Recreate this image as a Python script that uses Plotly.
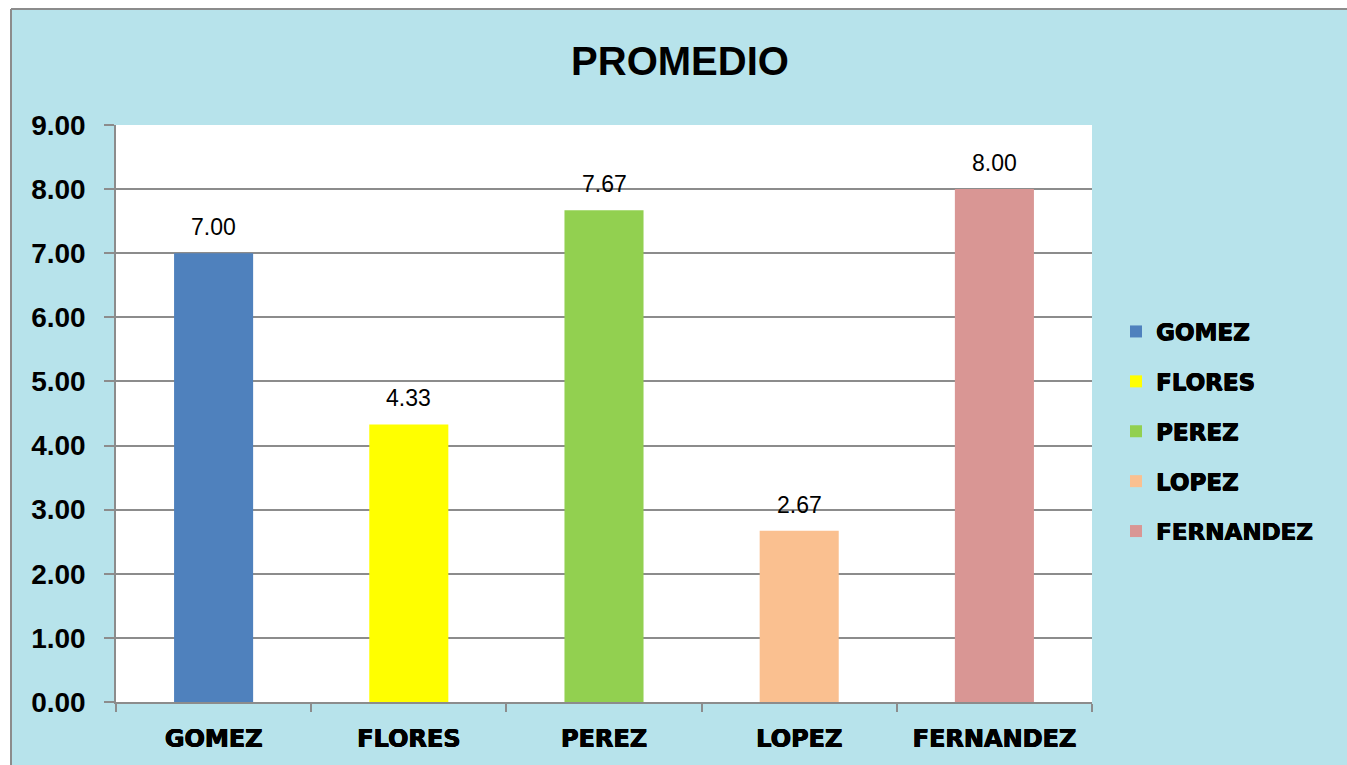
import plotly.graph_objects as go

categories = ["GOMEZ", "FLORES", "PEREZ", "LOPEZ", "FERNANDEZ"]
values = [7.00, 4.33, 7.67, 2.67, 8.00]
colors = ["#4F81BD", "#FFFF00", "#92D050", "#FAC090", "#D99694"]
y_ticks = [0, 1, 2, 3, 4, 5, 6, 7, 8, 9]

W, H = 1347, 765
L, R, T, B = 116, 1092, 125, 702
pw, ph = R - L, B - T

HEAVY = "0.6px 0 0 #000, -0.3px 0 0 #000, 0 0.4px 0 #000"

fig = go.Figure()
for c, v, col in zip(categories, values, colors):
    fig.add_trace(go.Bar(
        x=[c], y=[v], name=c, marker=dict(color=col, line=dict(width=0)),
        width=0.405, cliponaxis=False, legendgroup=c,
    ))

annotations = [
    dict(x=c, y=v, xref="x", yref="y", text=f"{v:.2f}", showarrow=False,
         yanchor="bottom", yshift=11,
         font=dict(family="Liberation Sans", size=23, color="#000000"))
    for c, v in zip(categories, values)
]

def px_x(x):
    return (x - L) / pw

def px_y(y):
    return (B - y) / ph

fig.update_layout(
    width=W, height=H, autosize=False,
    margin=dict(l=L, r=W - R, t=T, b=H - B, pad=0),
    paper_bgcolor="#B7E3EB",
    plot_bgcolor="#FFFFFF",
    barmode="overlay",
    title=dict(text="<b>PROMEDIO</b>", x=680 / W, xref="container", xanchor="center",
               y=1 - 61 / H, yref="container", yanchor="middle",
               font=dict(family="Liberation Sans", size=40, color="#000000")),
    showlegend=True,
    legend=dict(x=px_x(1116), xanchor="left", y=px_y(310), yanchor="top",
                bgcolor="rgba(0,0,0,0)", tracegroupgap=17, itemwidth=30,
                font=dict(family="DejaVu Sans", size=23, color="#000000", weight="bold",
                          shadow=HEAVY)),
    annotations=annotations,
    xaxis=dict(
        type="category", tickson="boundaries", ticks="outside", ticklen=8,
        tickcolor="#8C8C8C", tickwidth=1.5, showline=True, linecolor="#8C8C8C", linewidth=1.5,
        showgrid=False, ticklabelstandoff=14,
        tickfont=dict(family="DejaVu Sans", size=24, color="#000000", weight="bold",
                      shadow=HEAVY),
    ),
    yaxis=dict(
        range=[0, 9], tickvals=y_ticks, tickformat=".2f", ticks="outside", ticklen=10,
        tickcolor="#8C8C8C", tickwidth=1.5, showline=True, linecolor="#8C8C8C", linewidth=1.5,
        showgrid=True, gridcolor="#8C8C8C", gridwidth=1.5, zeroline=False,
        ticklabelstandoff=13,
        tickfont=dict(family="Liberation Sans", size=28, color="#000000", weight="bold"),
    ),
    shapes=[
        dict(type="rect", xref="paper", yref="paper", x0=px_x(-5), x1=px_x(11), y0=px_y(H + 5), y1=px_y(-5),
             fillcolor="#FFFFFF", line=dict(width=0), layer="below"),
        dict(type="rect", xref="paper", yref="paper", x0=px_x(-5), x1=px_x(W + 5), y0=px_y(9), y1=px_y(-5),
             fillcolor="#FFFFFF", line=dict(width=0), layer="below"),
        dict(type="line", xref="paper", yref="paper", x0=px_x(11), x1=px_x(11), y0=px_y(H + 5), y1=px_y(9),
             line=dict(color="#8C8C8C", width=2)),
        dict(type="line", xref="paper", yref="paper", x0=px_x(11), x1=px_x(W + 5), y0=px_y(9), y1=px_y(9),
             line=dict(color="#8C8C8C", width=2)),
    ],
)

fig.write_html("out.html", config={"displayModeBar": False},
               post_script="document.body.style.margin='0';document.body.style.overflow='hidden';")
